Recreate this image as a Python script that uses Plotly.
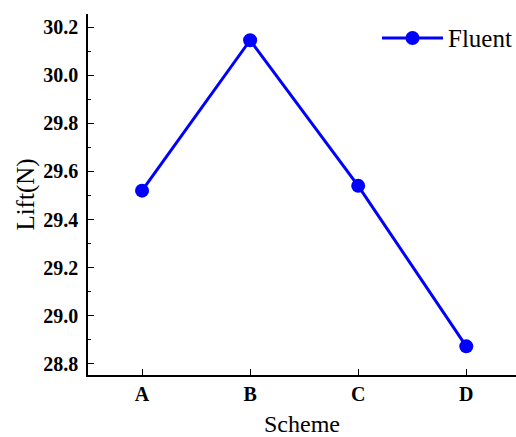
import plotly.graph_objects as go

schemes = ["A", "B", "C", "D"]
lift = [29.52, 30.145, 29.54, 28.873]
y_ticks = [28.8, 29.0, 29.2, 29.4, 29.6, 29.8, 30.0, 30.2]
y_ticktext = ["28.8", "29.0", "29.2", "29.4", "29.6", "29.8", "30.0", "30.2"]

SERIF = "Liberation Serif, Times New Roman, serif"

fig = go.Figure()
fig.add_trace(go.Scatter(
    x=list(range(len(schemes))), y=lift, mode="lines+markers", name="Fluent",
    line=dict(color="#0000ff", width=3),
    marker=dict(color="#0000ff", size=14),
    showlegend=False,
))

W, H = 516, 437
L, R, T, B = 88, 0, 14, 62
pw, ph = W - L - R, H - T - B

def px(xp):
    return (xp - L) / pw

def py(yp):
    return 1 - (yp - T) / ph

leg_y = py(38)
fig.update_layout(
    width=W, height=H,
    margin=dict(l=L, r=R, t=T, b=B, autoexpand=False),
    plot_bgcolor="white", paper_bgcolor="white",
    font=dict(family=SERIF, color="black"),
    showlegend=False,
    shapes=[
        dict(type="line", xref="paper", yref="paper", x0=px(382), x1=px(443), y0=leg_y, y1=leg_y,
             line=dict(color="#0000ff", width=3)),
        dict(type="circle", xref="paper", yref="paper", x0=px(405.5), x1=px(419.5),
             y0=py(45), y1=py(31), fillcolor="#0000ff", line=dict(color="#0000ff", width=0)),
    ],
    annotations=[
        dict(text="Fluent", xref="paper", yref="paper", x=px(446), y=leg_y,
             xanchor="left", yanchor="middle", showarrow=False,
             font=dict(size=25, family=SERIF)),
    ],
)
fig.update_xaxes(
    range=[-0.5, 3.46], tickmode="array", tickvals=list(range(len(schemes))), ticktext=schemes,
    showline=True, linecolor="black", linewidth=1.5, mirror=False,
    ticks="inside", ticklen=6, tickwidth=1.2, tickcolor="black",
    showgrid=False, zeroline=False, automargin=False,
    tickfont=dict(size=20, family=SERIF, weight="bold"),
    title=dict(text="Scheme", font=dict(size=24, family=SERIF), standoff=12),
)
fig.update_yaxes(
    range=[28.754, 30.254], tickmode="array",
    tickvals=y_ticks, ticktext=y_ticktext,
    showline=True, linecolor="black", linewidth=1.5,
    ticks="inside", ticklen=6, tickwidth=1.2, tickcolor="black",
    minor=dict(ticks="inside", ticklen=3, tickcolor="black", dtick=0.1, tick0=28.8, showgrid=False),
    showgrid=False, zeroline=False, ticklabelstandoff=4, automargin=False,
    tickfont=dict(size=20, family=SERIF, weight="bold"),
    title=dict(text="Lift(N)", font=dict(size=25, family=SERIF), standoff=2),
)
fig.write_html("out.html", config={"displayModeBar": False},
               post_script="document.body.style.margin='0';document.documentElement.style.overflow='hidden';")
